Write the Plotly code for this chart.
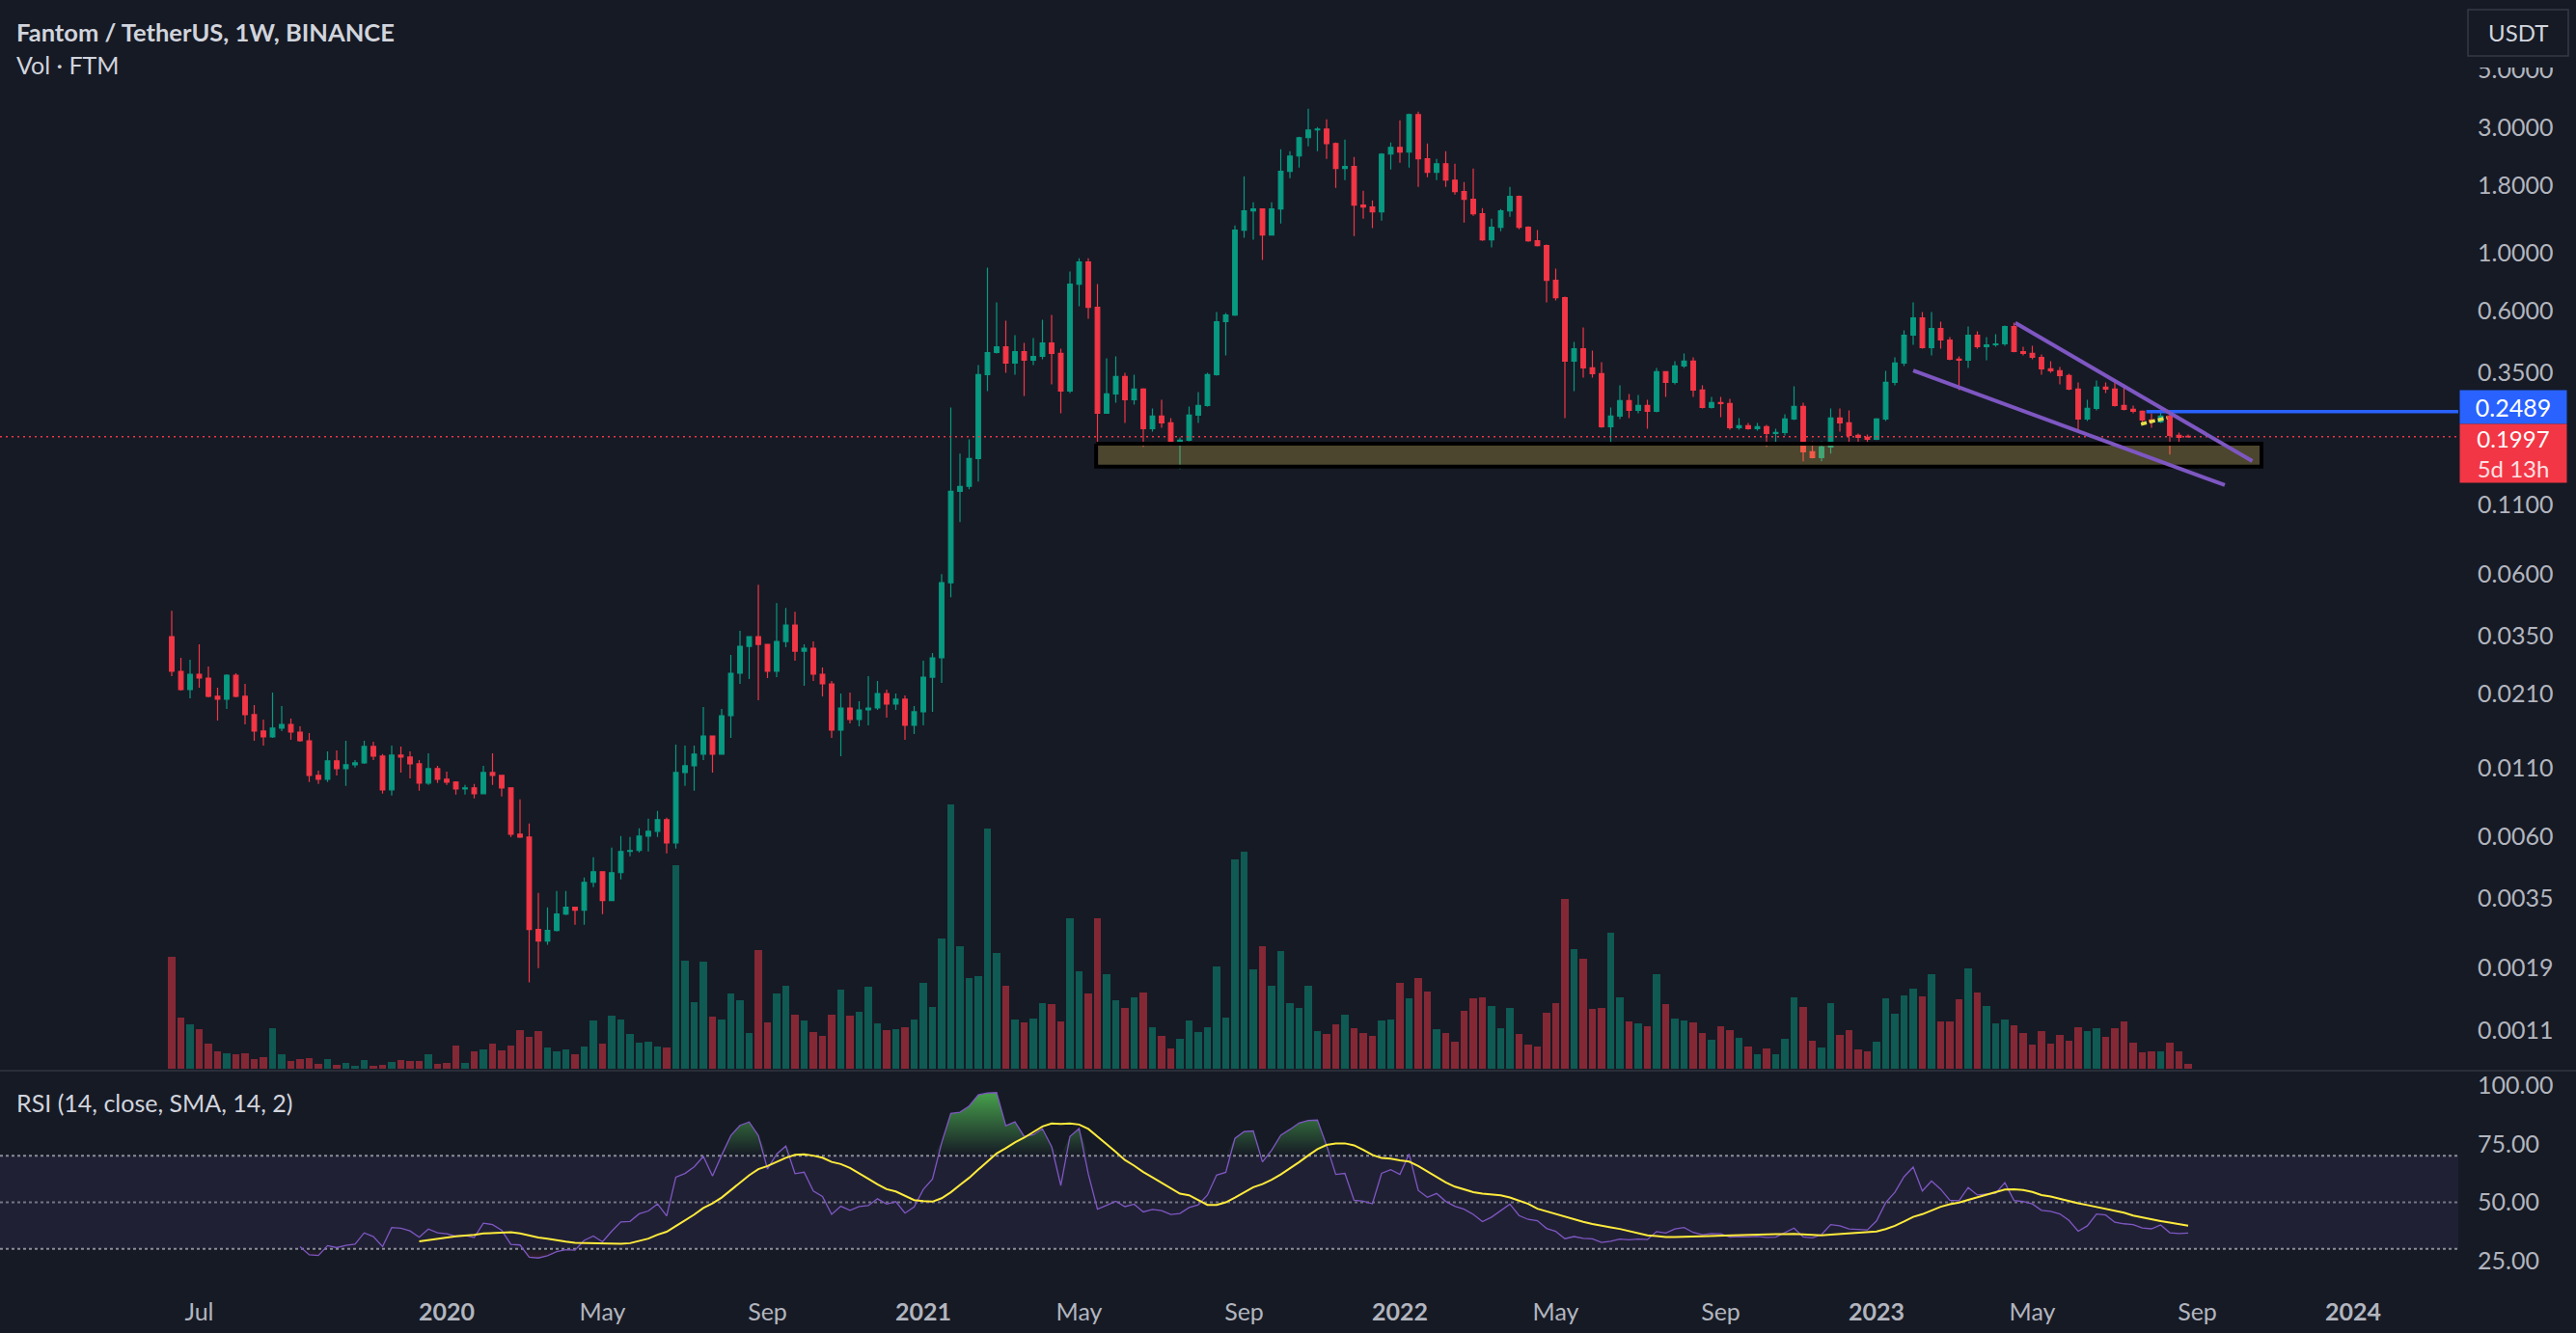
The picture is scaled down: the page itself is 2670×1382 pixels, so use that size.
import numpy as np
import pandas as pd
import plotly.graph_objects as go

# ---------------- data ----------------
first_week = "2019-06-10"

opens = [
    0.03463, 0.02556, 0.02177, 0.02492, 0.02409, 0.02053, 0.02001, 0.02471, 0.02053, 0.01748,
    0.01514, 0.01439, 0.01553, 0.01606, 0.01501, 0.01391, 0.01027, 0.009925, 0.01166, 0.01089,
    0.01127, 0.01146, 0.01323, 0.01216, 0.009049, 0.01226, 0.01206, 0.01136, 0.009600, 0.01089,
    0.009925, 0.009681, 0.009125, 0.009203, 0.008748, 0.01053, 0.01027, 0.009203, 0.006137, 0.005984,
    0.002661, 0.002404, 0.002638, 0.003046, 0.003231, 0.003150, 0.004024, 0.004416, 0.003428, 0.004379,
    0.005272, 0.005317, 0.006034, 0.006295, 0.006967, 0.005688, 0.01053, 0.01117, 0.01237, 0.01451,
    0.01237, 0.01733, 0.02513, 0.03182, 0.03463, 0.03236, 0.02556, 0.03319, 0.03833, 0.03050,
    0.03128, 0.02492, 0.02290, 0.01527, 0.01854, 0.01676, 0.01823, 0.01854, 0.02105, 0.01919,
    0.02001, 0.01593, 0.01793, 0.02429, 0.02877, 0.05555, 0.1239, 0.1293, 0.1651, 0.3441,
    0.4178, 0.4395, 0.3808, 0.4213, 0.3906, 0.4039, 0.4546, 0.4143, 0.2981, 0.7607,
    0.9237, 0.6212, 0.2455, 0.2906, 0.3383, 0.2762, 0.3032, 0.2144, 0.2393, 0.2256,
    0.1858, 0.1938, 0.2414, 0.2626, 0.3441, 0.5474, 0.5807, 1.221, 1.445, 1.470,
    1.170, 1.470, 2.043, 2.338, 2.745, 2.937, 2.962, 2.609, 2.095, 2.131,
    1.520, 1.495, 1.433, 2.378, 2.523, 2.418, 3.360, 2.280, 2.026, 2.185,
    1.893, 1.711, 1.599, 1.409, 1.122, 1.252, 1.445, 1.640, 1.252, 1.112,
    1.067, 0.7868, 0.6759, 0.3873, 0.4321, 0.3650, 0.3470, 0.2181, 0.2393, 0.2739,
    0.2518, 0.2626, 0.2496, 0.3529, 0.3216, 0.3713, 0.3873, 0.3006, 0.2582, 0.2693,
    0.2670, 0.2162, 0.2199, 0.2144, 0.2181, 0.2055, 0.2073, 0.2333, 0.2604, 0.1751,
    0.1665, 0.1827, 0.2353, 0.2256, 0.2021, 0.1987, 0.1954, 0.2333, 0.3216, 0.3808,
    0.4863, 0.5662, 0.4358, 0.5159, 0.4662, 0.3939, 0.3906, 0.4863, 0.4395, 0.4470,
    0.4508, 0.5247, 0.4213, 0.4143, 0.4005, 0.3619, 0.3559, 0.3412, 0.3032, 0.2333,
    0.2561, 0.3083, 0.3032, 0.2626, 0.2539, 0.2496, 0.2314, 0.2275, 0.2393, 0.2021,
    0.2005,
]

highs = [
    0.04349, 0.02877, 0.02828, 0.03236, 0.02666, 0.02214, 0.02492, 0.02513, 0.02290, 0.01902,
    0.01676, 0.02123, 0.01886, 0.01690, 0.01579, 0.01489, 0.01071, 0.01268, 0.01279, 0.01391,
    0.01175, 0.01391, 0.01380, 0.01237, 0.01334, 0.01323, 0.01268, 0.01175, 0.01247, 0.01117,
    0.01062, 0.009760, 0.009439, 0.009519, 0.01117, 0.01247, 0.01027, 0.009203, 0.008316, 0.006734,
    0.003668, 0.003231, 0.003730, 0.003730, 0.003231, 0.004198, 0.005012, 0.004416, 0.005453, 0.006034,
    0.005984, 0.006456, 0.007025, 0.007516, 0.007085, 0.01346, 0.01334, 0.01334, 0.01870, 0.01451,
    0.01839, 0.02949, 0.03643, 0.03463, 0.05462, 0.03236, 0.04653, 0.04461, 0.04312, 0.03236,
    0.03319, 0.02644, 0.02349, 0.02105, 0.02123, 0.01968, 0.02450, 0.02349, 0.02177, 0.02105,
    0.02070, 0.01886, 0.02805, 0.02999, 0.05994, 0.2582, 0.1722, 0.1954, 0.3744, 0.8781,
    0.6480, 0.5520, 0.4863, 0.4546, 0.4742, 0.5567, 0.5807, 0.4321, 0.8489, 0.9553,
    0.9553, 0.7607, 0.3972, 0.4039, 0.3499, 0.3441, 0.3057, 0.2561, 0.2762, 0.2353,
    0.1987, 0.2604, 0.2956, 0.3499, 0.5956, 0.5906, 1.273, 1.958, 1.559, 1.470,
    1.559, 2.480, 2.439, 2.768, 3.535, 3.012, 3.222, 2.631, 2.699, 2.318,
    1.725, 1.586, 2.398, 2.631, 3.195, 3.389, 3.447, 2.609, 2.280, 2.439,
    2.185, 1.862, 2.095, 1.482, 1.351, 1.470, 1.785, 1.654, 1.263, 1.221,
    1.076, 0.8707, 0.6817, 0.4585, 0.5203, 0.4249, 0.3840, 0.2582, 0.3135, 0.2906,
    0.2882, 0.2762, 0.3650, 0.3529, 0.3873, 0.4143, 0.4005, 0.3135, 0.2833, 0.2833,
    0.2786, 0.2353, 0.2256, 0.2256, 0.2218, 0.2144, 0.2434, 0.3109, 0.2693, 0.1921,
    0.1921, 0.2561, 0.2561, 0.2518, 0.2055, 0.2038, 0.2353, 0.3559, 0.4006, 0.5073,
    0.6480, 0.5956, 0.5956, 0.5474, 0.4782, 0.4039, 0.5247, 0.5031, 0.4782, 0.4905,
    0.5292, 0.5428, 0.4395, 0.4432, 0.4108, 0.3873, 0.3682, 0.3470, 0.3216, 0.2762,
    0.3270, 0.3216, 0.3216, 0.3161, 0.2626, 0.2518, 0.2455, 0.2475, 0.2455, 0.2073,
    0.2038,
]

lows = [
    0.02450, 0.02159, 0.02018, 0.02214, 0.02035, 0.01662, 0.01839, 0.02035, 0.01606, 0.01391,
    0.01334, 0.01427, 0.01514, 0.01403, 0.01380, 0.009681, 0.009519, 0.009681, 0.01027, 0.009360,
    0.01099, 0.01136, 0.01175, 0.008748, 0.008602, 0.01053, 0.01001, 0.008973, 0.009439, 0.009600,
    0.009439, 0.008675, 0.008675, 0.008386, 0.008748, 0.009439, 0.008530, 0.005984, 0.005934, 0.001673,
    0.001898, 0.002325, 0.002616, 0.003020, 0.002776, 0.002776, 0.003858, 0.003046, 0.003428, 0.004127,
    0.005054, 0.005228, 0.005272, 0.005984, 0.005184, 0.005408, 0.009360, 0.008973, 0.01175, 0.01053,
    0.01237, 0.01427, 0.02290, 0.02389, 0.01985, 0.02409, 0.02429, 0.03155, 0.02805, 0.02252,
    0.02349, 0.02053, 0.01427, 0.01216, 0.01620, 0.01579, 0.01593, 0.01823, 0.01704, 0.01823,
    0.01403, 0.01476, 0.01593, 0.01793, 0.02309, 0.04894, 0.09458, 0.1260, 0.1348, 0.2981,
    0.4143, 0.3499, 0.3441, 0.2858, 0.3744, 0.3939, 0.3161, 0.2455, 0.2931, 0.6264,
    0.5614, 0.1812, 0.2455, 0.2693, 0.2256, 0.2648, 0.1827, 0.2090, 0.2162, 0.1842,
    0.1504, 0.1921, 0.2256, 0.2604, 0.3412, 0.4073, 0.5758, 1.141, 1.122, 0.9394,
    1.170, 1.295, 1.926, 2.113, 2.544, 2.439, 2.280, 1.770, 1.893, 1.160,
    1.351, 1.242, 1.328, 2.078, 2.204, 2.113, 1.785, 1.942, 1.893, 1.785,
    1.668, 1.306, 1.385, 1.112, 1.049, 1.210, 1.374, 1.231, 1.103, 1.058,
    0.6480, 0.6590, 0.2353, 0.2981, 0.3354, 0.3354, 0.2162, 0.1905, 0.2333, 0.2353,
    0.2455, 0.2144, 0.2475, 0.2833, 0.3161, 0.3650, 0.2833, 0.2561, 0.2561, 0.2373,
    0.2126, 0.2126, 0.2126, 0.2108, 0.1827, 0.1889, 0.2021, 0.2314, 0.1610, 0.1651,
    0.1610, 0.1722, 0.2090, 0.1905, 0.1873, 0.1905, 0.1938, 0.2294, 0.3135, 0.3713,
    0.4470, 0.4321, 0.4073, 0.4321, 0.3906, 0.3006, 0.3650, 0.4321, 0.3906, 0.4395,
    0.4432, 0.4190, 0.4073, 0.3939, 0.3441, 0.3499, 0.3161, 0.3006, 0.2073, 0.2294,
    0.2518, 0.2931, 0.2604, 0.2518, 0.2455, 0.2237, 0.2162, 0.2256, 0.1708, 0.1905,
    0.1980,
]

closes = [
    0.02556, 0.02177, 0.02492, 0.02409, 0.02053, 0.02001, 0.02471, 0.02053, 0.01748, 0.01514,
    0.01439, 0.01553, 0.01606, 0.01501, 0.01391, 0.01027, 0.009925, 0.01166, 0.01089, 0.01127,
    0.01146, 0.01323, 0.01216, 0.009049, 0.01226, 0.01206, 0.01136, 0.009600, 0.01089, 0.009925,
    0.009681, 0.009125, 0.009203, 0.008748, 0.01053, 0.01027, 0.009203, 0.006137, 0.005984, 0.002661,
    0.002404, 0.002638, 0.003046, 0.003231, 0.003150, 0.004024, 0.004416, 0.003428, 0.004379, 0.005272,
    0.005317, 0.006034, 0.006295, 0.006967, 0.005688, 0.01053, 0.01117, 0.01237, 0.01451, 0.01237,
    0.01733, 0.02513, 0.03182, 0.03463, 0.03236, 0.02556, 0.03319, 0.03833, 0.03050, 0.03128,
    0.02492, 0.02290, 0.01527, 0.01854, 0.01676, 0.01823, 0.01854, 0.02105, 0.01919, 0.02001,
    0.01593, 0.01793, 0.02429, 0.02877, 0.05555, 0.1239, 0.1293, 0.1651, 0.3441, 0.4178,
    0.4395, 0.3808, 0.4213, 0.3906, 0.4039, 0.4546, 0.4143, 0.2981, 0.7607, 0.9237,
    0.6212, 0.2455, 0.2906, 0.3383, 0.2762, 0.3032, 0.2144, 0.2393, 0.2256, 0.1858,
    0.1938, 0.2414, 0.2626, 0.3441, 0.5474, 0.5807, 1.221, 1.445, 1.470, 1.170,
    1.470, 2.043, 2.338, 2.745, 2.937, 2.962, 2.609, 2.095, 2.131, 1.520,
    1.495, 1.433, 2.378, 2.523, 2.418, 3.360, 2.280, 2.026, 2.185, 1.893,
    1.711, 1.599, 1.409, 1.122, 1.252, 1.445, 1.640, 1.252, 1.112, 1.067,
    0.7868, 0.6759, 0.3873, 0.4321, 0.3650, 0.3470, 0.2181, 0.2393, 0.2739, 0.2518,
    0.2626, 0.2496, 0.3529, 0.3216, 0.3713, 0.3873, 0.3006, 0.2582, 0.2693, 0.2670,
    0.2162, 0.2199, 0.2144, 0.2181, 0.2055, 0.2073, 0.2333, 0.2604, 0.1751, 0.1665,
    0.1827, 0.2353, 0.2256, 0.2021, 0.1987, 0.1954, 0.2333, 0.3216, 0.3808, 0.4863,
    0.5662, 0.4358, 0.5159, 0.4662, 0.3939, 0.3906, 0.4863, 0.4395, 0.4470, 0.4508,
    0.5247, 0.4213, 0.4143, 0.4005, 0.3619, 0.3559, 0.3412, 0.3032, 0.2333, 0.2561,
    0.3083, 0.3032, 0.2626, 0.2539, 0.2496, 0.2314, 0.2275, 0.2393, 0.2021, 0.1987,
    0.1997,
]

volumes = [
    349, 159, 140, 124, 79, 54, 49, 46, 49, 32,
    37, 127, 46, 25, 30, 34, 16, 32, 14, 19,
    10, 28, 10, 13, 22, 29, 24, 26, 46, 17,
    19, 74, 19, 56, 60, 79, 59, 74, 121, 100,
    118, 67, 56, 60, 47, 70, 151, 79, 165, 154,
    110, 82, 85, 70, 67, 634, 337, 209, 334, 164,
    154, 237, 214, 112, 370, 144, 237, 260, 170, 150,
    116, 104, 170, 247, 167, 177, 257, 142, 122, 124,
    129, 154, 270, 194, 406, 825, 384, 284, 289, 749,
    361, 259, 154, 145, 157, 207, 202, 149, 469, 304,
    236, 469, 297, 214, 190, 224, 239, 130, 104, 64,
    94, 150, 114, 130, 319, 160, 652, 677, 310, 382,
    259, 367, 205, 190, 259, 117, 110, 140, 170, 127,
    112, 104, 150, 154, 269, 220, 285, 242, 124, 112,
    85, 182, 220, 225, 197, 127, 190, 110, 75, 70,
    175, 205, 529, 375, 345, 186, 190, 424, 225, 147,
    142, 132, 297, 202, 157, 150, 145, 112, 92, 132,
    122, 97, 70, 47, 64, 47, 94, 225, 192, 87,
    67, 205, 106, 120, 62, 56, 85, 222, 172, 229,
    252, 226, 297, 147, 147, 217, 315, 240, 197, 142,
    154, 137, 112, 77, 117, 79, 106, 89, 130, 119,
    127, 100, 127, 149, 82, 52, 55, 55, 82, 56,
    17,
]

price_ticks = [5, 3, 1.8, 1, 0.6, 0.35, 0.11, 0.06, 0.035, 0.021, 0.011, 0.006, 0.0035, 0.0019, 0.0011]
rsi_ticks = [25, 50, 75, 100]
time_tick_dates = ["2019-07-01", "2020-01-06", "2020-05-04", "2020-09-07", "2021-01-04",
                   "2021-05-03", "2021-09-06", "2022-01-03", "2022-05-02", "2022-09-05",
                   "2023-01-02", "2023-05-01", "2023-09-04", "2024-01-01"]
time_tick_labels = ["Jul", "2020", "May", "Sep", "2021", "May", "Sep", "2022", "May", "Sep",
                    "2023", "May", "Sep", "2024"]

# user drawings (date, price)
box_dates = ["2021-05-16", "2023-10-23"]
box_prices = [0.1878, 0.1536]
upper_trend_dates = ["2023-04-18", "2023-10-16"]
upper_trend_prices = [0.5414, 0.1614]
lower_trend_dates = ["2023-01-30", "2023-09-25"]
lower_trend_prices = [0.3568, 0.1307]
yellow_dates = ["2023-07-23", "2023-08-12"]
yellow_prices = [0.2231, 0.2359]
blue_level = 0.2489
blue_start = "2023-07-27"
time_left = "5d 13h"

# ---------------- style / geometry ----------------
W, H = 2670, 1382
BG = "#161A25"
UP, DOWN = "#089981", "#F23645"
TXT = "#B2B5BE"
FONT = "Lato"
plot_right = 2548          # px, right edge of the panes
price_bottom = 1108        # px, bottom of price pane
rsi_top, rsi_bottom = 1111, 1333
first_bar_px = 178
ppd = 9.5 / 7.0            # px per day

d0 = pd.Timestamp(first_week)
x_start = d0 - pd.Timedelta(days=first_bar_px / ppd)
x_end = d0 + pd.Timedelta(days=(plot_right - first_bar_px) / ppd)

dates = pd.date_range(first_week, periods=len(closes), freq="7D")
o = np.array(opens); c = np.array(closes)
is_up = c >= o

# ---------------- RSI (14) + SMA(14) ----------------
period = 14
delta = np.diff(c)
gain = np.where(delta > 0, delta, 0.0)
loss = np.where(delta < 0, -delta, 0.0)
n = len(c)
ag = np.full(n, np.nan); al = np.full(n, np.nan)
ag[period] = gain[:period].mean(); al[period] = loss[:period].mean()
for i in range(period + 1, n):
    ag[i] = (ag[i - 1] * (period - 1) + gain[i - 1]) / period
    al[i] = (al[i - 1] * (period - 1) + loss[i - 1]) / period
rsi = 100 - 100 / (1 + ag / al)
rsi_ma = pd.Series(rsi).rolling(14).mean().to_numpy()

fig = go.Figure()

# volume (base axis y, drawn beneath the price overlay)
vol_colors = ["rgba(8,153,129,0.5)" if u else "rgba(242,54,69,0.5)" for u in is_up]
fig.add_trace(go.Bar(x=dates, y=volumes, marker=dict(color=vol_colors, line=dict(width=0)),
                     width=5.2 * 86400000, xaxis="x", yaxis="y", hoverinfo="skip"))

# rectangle drawing
bx = [box_dates[0], box_dates[1], box_dates[1], box_dates[0], box_dates[0]]
by = [box_prices[0], box_prices[0], box_prices[1], box_prices[1], box_prices[0]]
fig.add_trace(go.Scatter(x=bx, y=by, mode="lines", fill="toself",
                         fillcolor="rgba(238,202,81,0.25)", line=dict(color="#000000", width=4),
                         xaxis="x", yaxis="y3", hoverinfo="skip"))

# candles
fig.add_trace(go.Candlestick(
    x=dates, open=opens, high=highs, low=lows, close=closes,
    increasing=dict(line=dict(color=UP, width=1.2), fillcolor=UP),
    decreasing=dict(line=dict(color=DOWN, width=1.2), fillcolor=DOWN),
    whiskerwidth=0, xaxis="x", yaxis="y3", hoverinfo="skip"))

# last price dotted line
fig.add_trace(go.Scatter(x=[x_start, x_end], y=[closes[-1], closes[-1]], mode="lines",
                         line=dict(color=DOWN, width=1.5, dash="2px,4px"),
                         xaxis="x", yaxis="y3", hoverinfo="skip"))
# horizontal blue ray
fig.add_trace(go.Scatter(x=[blue_start, x_end], y=[blue_level, blue_level], mode="lines",
                         line=dict(color="#2962FF", width=3.5), xaxis="x", yaxis="y3", hoverinfo="skip"))
# trend lines
for tx, ty in ((upper_trend_dates, upper_trend_prices), (lower_trend_dates, lower_trend_prices)):
    fig.add_trace(go.Scatter(x=tx, y=ty, mode="lines", line=dict(color="#7E57C2", width=4),
                             xaxis="x", yaxis="y3", hoverinfo="skip"))
fig.add_trace(go.Scatter(x=yellow_dates, y=yellow_prices, mode="lines",
                         line=dict(color="#E5E04A", width=3.5, dash="6px,3px"),
                         xaxis="x", yaxis="y3", hoverinfo="skip"))

# ---------------- RSI pane ----------------
xr = dates[period:]
rr = rsi[period:]
fig.add_trace(go.Scatter(x=xr, y=np.full(len(rr), 70.0), mode="lines", line=dict(width=0),
                         xaxis="x2", yaxis="y2", hoverinfo="skip"))
fig.add_trace(go.Scatter(x=xr, y=np.maximum(rr, 70.0), mode="lines", line=dict(width=0),
                         fill="tonexty",
                         fillgradient=dict(type="vertical", start=70, stop=100,
                                           colorscale=[[0, "rgba(76,175,80,0)"], [1, "rgba(76,175,80,1)"]]),
                         xaxis="x2", yaxis="y2", hoverinfo="skip"))
fig.add_trace(go.Scatter(x=xr, y=np.full(len(rr), 30.0), mode="lines", line=dict(width=0),
                         xaxis="x2", yaxis="y2", hoverinfo="skip"))
fig.add_trace(go.Scatter(x=xr, y=np.minimum(rr, 30.0), mode="lines", line=dict(width=0),
                         fill="tonexty",
                         fillgradient=dict(type="vertical", start=0, stop=30,
                                           colorscale=[[0, "rgba(242,54,69,1)"], [1, "rgba(242,54,69,0)"]]),
                         xaxis="x2", yaxis="y2", hoverinfo="skip"))
fig.add_trace(go.Scatter(x=xr, y=rr, mode="lines", line=dict(color="#7E57C2", width=1.3),
                         xaxis="x2", yaxis="y2", hoverinfo="skip"))
fig.add_trace(go.Scatter(x=dates[2 * period - 1:], y=rsi_ma[2 * period - 1:], mode="lines",
                         line=dict(color="#FFEB3B", width=2), xaxis="x2", yaxis="y2", hoverinfo="skip"))

# ---------------- layout ----------------
xdom = [0, plot_right / W]
price_dom = [1 - price_bottom / H, 1]
rsi_dom = [1 - rsi_bottom / H, 1 - rsi_top / H]
log_top = 0.9553
log_bottom = -3.1063

shapes = [
    dict(type="rect", xref="x2 domain", x0=0, x1=1, yref="y2", y0=30, y1=70,
         fillcolor="rgba(126,87,194,0.10)", line=dict(width=0), layer="below"),
]
for lvl, col in ((70, "#8A8D97"), (50, "rgba(138,141,151,0.8)"), (30, "#8A8D97")):
    shapes.append(dict(type="line", xref="x2 domain", x0=0, x1=1, yref="y2", y0=lvl, y1=lvl,
                       line=dict(color=col, width=2, dash="3px,3px"), layer="below"))
# pane separator
shapes.append(dict(type="line", xref="paper", x0=0, x1=1, yref="paper",
                   y0=1 - 1109.5 / H, y1=1 - 1109.5 / H, line=dict(color="#2A2E39", width=2)))
# mask + USDT button
shapes.append(dict(type="rect", xref="paper", yref="paper", x0=plot_right / W, x1=1,
                   y0=1 - 68 / H, y1=1, fillcolor=BG, line=dict(width=0), layer="above"))
shapes.append(dict(type="rect", xref="paper", yref="paper", x0=2558 / W, x1=2662 / W,
                   y0=1 - 56 / H, y1=1 - 8 / H, fillcolor=BG,
                   line=dict(color="#363A45", width=1.5), layer="above"))

ann = [
    dict(text="<b>Fantom / TetherUS, 1W, BINANCE</b>", x=15 / W, y=1 - 31 / H, xref="paper", yref="paper",
         xanchor="left", yanchor="middle", showarrow=False, font=dict(family=FONT, size=25.5, color="#D1D4DC")),
    dict(text="Vol · FTM", x=15 / W, y=1 - 65 / H, xref="paper", yref="paper",
         xanchor="left", yanchor="middle", showarrow=False, font=dict(family=FONT, size=25, color="#D1D4DC")),
    dict(text="RSI (14, close, SMA, 14, 2)", x=15 / W, y=1 - 1143 / H, xref="paper", yref="paper",
         xanchor="left", yanchor="middle", showarrow=False, font=dict(family=FONT, size=25, color="#D1D4DC")),
    dict(text="USDT", x=2610 / W, y=1 - 32 / H, xref="paper", yref="paper",
         xanchor="center", yanchor="middle", showarrow=False, font=dict(family=FONT, size=24, color="#D1D4DC")),
    dict(text=f"{blue_level:.4f}", x=(plot_right + 1) / W, y=np.log10(blue_level), xref="paper", yref="y3",
         xanchor="left", yanchor="middle", yshift=5, showarrow=False, width=110, height=34,
         bgcolor="#2962FF", borderpad=0, align="center", font=dict(family=FONT, size=25, color="#FFFFFF")),
    dict(text=f"{closes[-1]:.4f}<br><span style='color:#FFE0E3'>{time_left}</span>",
         x=(plot_right + 1) / W, y=np.log10(closes[-1]), xref="paper", yref="y3",
         xanchor="left", yanchor="top", yshift=14, showarrow=False, width=110, height=60,
         bgcolor=DOWN, borderpad=0, align="center", font=dict(family=FONT, size=24, color="#FFFFFF")),
]

time_text = [f"<b>{t}</b>" if t.isdigit() else t for t in time_tick_labels]

fig.update_layout(
    width=W, height=H, margin=dict(l=0, r=0, t=0, b=0),
    paper_bgcolor=BG, plot_bgcolor=BG, showlegend=False, hovermode=False,
    font=dict(family=FONT, color=TXT),
    bargap=0,
    xaxis=dict(domain=xdom, anchor="y", type="date", range=[x_start, x_end], showticklabels=False,
               showgrid=False, zeroline=False, showline=False, ticks="", rangeslider=dict(visible=False)),
    yaxis=dict(domain=price_dom, anchor="x", range=[0, 825 * price_bottom / 275], visible=False,
               showgrid=False, zeroline=False),
    yaxis3=dict(overlaying="y", anchor="x", side="right", type="log", range=[log_bottom, log_top],
                tickvals=price_ticks, ticktext=[f"{v:.4f}" for v in price_ticks],
                showgrid=False, zeroline=False, showline=False, ticks="", ticklabelstandoff=19,
                tickfont=dict(family=FONT, size=25, color=TXT)),
    xaxis2=dict(domain=xdom, anchor="y2", type="date", matches="x", range=[x_start, x_end],
                tickvals=time_tick_dates, ticktext=time_text, showgrid=False, zeroline=False,
                showline=False, ticks="", ticklabelstandoff=10,
                tickfont=dict(family=FONT, size=25, color=TXT)),
    yaxis2=dict(domain=rsi_dom, anchor="x2", side="right", range=[14.2, 105.9],
                tickvals=rsi_ticks, ticktext=[f"{v:.2f}" for v in rsi_ticks],
                showgrid=False, zeroline=False, showline=False, ticks="", ticklabelstandoff=19,
                tickfont=dict(family=FONT, size=25, color=TXT)),
    shapes=shapes, annotations=ann,
)

fig.write_html("out.html", include_plotlyjs=True, config={"displayModeBar": False})
